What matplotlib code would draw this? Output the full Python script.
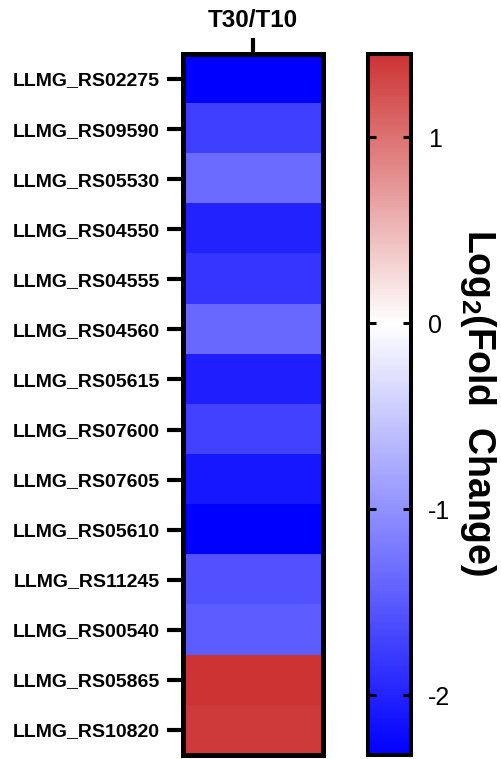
#!/usr/bin/env python3
"""Log2 fold change heatmap (T30/T10) with a blue-white-red colour bar."""
import matplotlib
matplotlib.use("Agg")
import matplotlib.pyplot as plt
import numpy as np
from matplotlib.colors import LinearSegmentedColormap, Normalize

plt.rcParams["font.family"] = ["Liberation Sans", "DejaVu Sans"]
plt.rcParams["axes.unicode_minus"] = False
plt.rcParams["mathtext.fontset"] = "custom"
plt.rcParams["mathtext.rm"] = "Liberation Sans:bold"
plt.rcParams["mathtext.default"] = "rm"

genes = [
    "LLMG_RS02275", "LLMG_RS09590", "LLMG_RS05530", "LLMG_RS04550",
    "LLMG_RS04555", "LLMG_RS04560", "LLMG_RS05615", "LLMG_RS07600",
    "LLMG_RS07605", "LLMG_RS05610", "LLMG_RS11245", "LLMG_RS00540",
    "LLMG_RS05865", "LLMG_RS10820",
]
log2fc = [-2.35, -1.74, -1.34, -2.00, -1.82, -1.37, -2.03, -1.72,
          -2.10, -2.35, -1.57, -1.48, 1.45, 1.40]
column = ["T30/T10"]
cbar_ticks = [-2, -1, 0, 1]

VMIN, VMAX = -2.32, 1.45
W, H = 501, 759

f0 = (0 - VMIN) / (VMAX - VMIN)
cmap = LinearSegmentedColormap.from_list(
    "bwr_prism", [(0.0, "#0000ff"), (f0, "#ffffff"), (1.0, "#cd3333")])
norm = Normalize(vmin=VMIN, vmax=VMAX)

fig = plt.figure(figsize=(W / 100, H / 100), dpi=100)

# heatmap axes (pixel box -> figure fractions)
ax = fig.add_axes([182.5 / W, (H - 755) / H, 140 / W, 701 / H])
im = ax.imshow(np.array(log2fc).reshape(-1, 1), aspect="auto", cmap=cmap, norm=norm)
ax.set_yticks(range(len(genes)))
ax.set_yticklabels(genes, fontsize=14, fontweight="bold")
ax.xaxis.tick_top()
ax.set_xticks([0])
ax.set_xticklabels(column, fontsize=17.5, fontweight="bold")
ax.tick_params(axis="both", length=11.5, width=3, pad=5)
ax.tick_params(axis="x", pad=4)
for s in ax.spines.values():
    s.set_linewidth(3.6)

# colour bar
cax = fig.add_axes([367.5 / W, (H - 755) / H, 44 / W, 701.5 / H])
cb = fig.colorbar(im, cax=cax, ticks=cbar_ticks)
cb.outline.set_linewidth(2.9)
cax.tick_params(direction="in", length=6, width=2.2, labelsize=18, pad=12,
                left=True, right=True)
cax.set_yticklabels([str(t) for t in cbar_ticks])

fig.text(478 / W, 1 - 403 / H, "Log$_2$(Fold  Change)", rotation=270,
         ha="center", va="center", fontsize=27, fontweight="bold")

fig.savefig("out.png", dpi=100)
